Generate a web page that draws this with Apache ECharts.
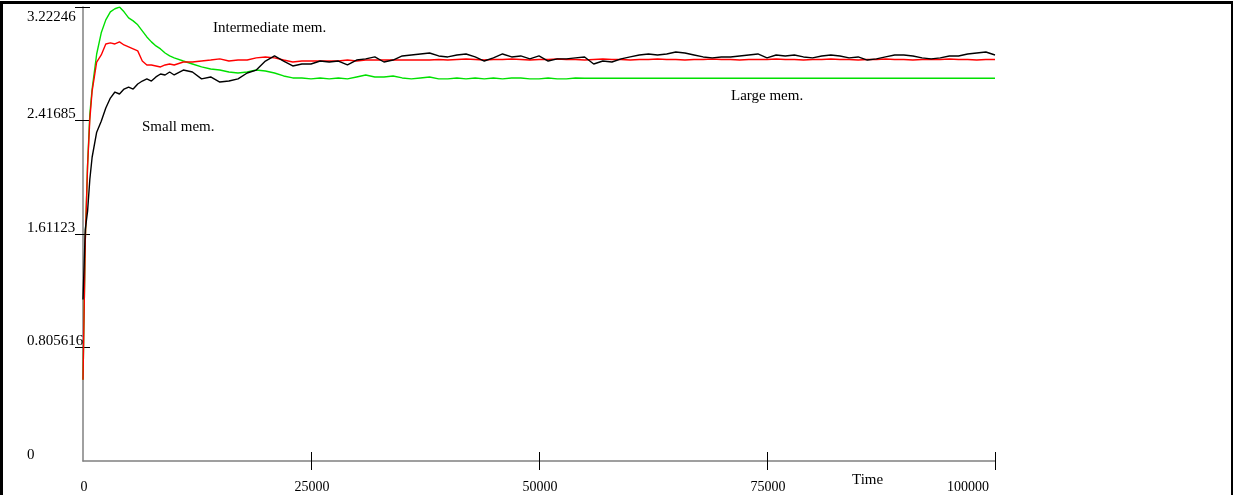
<!DOCTYPE html>
<html>
<head>
<meta charset="utf-8">
<script src="https://cdn.jsdelivr.net/npm/echarts@6.0.0/dist/echarts.min.js"></script>
<style>
  html, body { margin: 0; padding: 0; background: #fff; }
  #wrap { position: relative; width: 1234px; height: 495px; overflow: hidden; }
  #chart { position: absolute; left: 0; top: 0; width: 1234px; height: 495px; }
  #frame { position: absolute; left: 0; top: 1px; width: 1233px; height: 520px; box-sizing: border-box;
           border-top: 3px solid #000; border-left: 3px solid #000; border-right: 2px solid #000; pointer-events: none; }
</style>
</head>
<body>
<div id="wrap"><div id="chart"></div><div id="frame"></div></div>
<script>
// ---- data ----
const times = [0,250,500,750,1000,1500,2000,2500,3000,3500,4000,4500,5000,5500,6000,6500,7000,7500,8000,8500,9000,9500,10000,
  11000,12000,13000,14000,15000,16000,17000,18000,19000,20000,
  21000,22000,23000,24000,25000,26000,27000,28000,29000,30000,
  31000,32000,33000,34000,35000,36000,37000,38000,39000,40000,
  41000,42000,43000,44000,45000,46000,47000,48000,49000,50000,
  51000,52000,53000,54000,55000,56000,57000,58000,59000,60000,
  61000,62000,63000,64000,65000,66000,67000,68000,69000,70000,
  71000,72000,73000,74000,75000,76000,77000,78000,79000,80000,
  81000,82000,83000,84000,85000,86000,87000,88000,89000,90000,
  91000,92000,93000,94000,95000,96000,97000,98000,99000,100000];

const largeMem = [0.576,1.57,2.10,2.462,2.640,2.889,3.039,3.131,3.188,3.210,3.222,3.188,3.145,3.124,3.096,3.053,3.010,2.975,2.946,2.925,2.896,2.875,2.861,
  2.839,2.818,2.797,2.782,2.775,2.761,2.754,2.761,2.775,2.768,2.754,2.733,2.719,2.719,
  2.712,2.719,2.712,2.719,2.712,2.726,2.740,2.726,2.726,2.733,
  2.719,2.712,2.719,2.726,2.712,2.712,2.719,2.712,2.719,2.712,
  2.719,2.712,2.719,2.719,2.712,2.712,2.719,2.712,2.712,2.719,
  2.717,2.717,2.717,2.717,2.717,2.717,2.717,2.717,2.717,2.717,
  2.717,2.717,2.717,2.717,2.717,2.717,2.717,2.717,2.717,2.717,
  2.717,2.717,2.717,2.717,2.717,2.717,2.717,2.717,2.717,2.717,
  2.717,2.717,2.717,2.717,2.717,2.717,2.717,2.717,2.717,2.717,
  2.717,2.717,2.717,2.717,2.717,2.717];

const intermediateMem = [0.576,1.56,2.09,2.427,2.626,2.832,2.882,2.960,2.968,2.960,2.975,2.953,2.939,2.925,2.911,2.839,2.811,2.811,2.804,2.797,2.811,2.818,2.811,
  2.832,2.832,2.839,2.846,2.854,2.839,2.846,2.846,2.861,2.868,2.861,2.846,2.832,2.839,
  2.839,2.839,2.839,2.839,2.846,2.839,2.846,2.846,2.846,2.846,2.846,2.846,2.846,2.846,
  2.850,2.846,2.850,2.853,2.850,2.846,2.850,2.850,2.853,2.850,
  2.846,2.850,2.850,2.853,2.850,2.850,2.846,2.850,2.853,2.850,
  2.850,2.846,2.850,2.850,2.853,2.850,2.850,2.846,2.850,2.850,
  2.853,2.850,2.850,2.846,2.850,2.850,2.850,2.853,2.850,2.850,
  2.846,2.850,2.850,2.853,2.850,2.850,2.846,2.850,2.850,2.853,
  2.850,2.850,2.846,2.850,2.850,2.850,2.853,2.850,2.850,2.846,
  2.850,2.850];

const smallMem = [1.146,1.644,1.772,2.000,2.156,2.334,2.412,2.505,2.576,2.619,2.605,2.640,2.654,2.640,2.676,2.697,2.712,2.697,2.726,2.747,2.740,2.761,2.740,
  2.775,2.761,2.712,2.726,2.690,2.697,2.712,2.754,2.775,2.839,2.875,2.839,2.804,2.818,
  2.818,2.839,2.832,2.839,2.811,2.846,2.854,2.868,2.832,2.846,
  2.875,2.882,2.889,2.896,2.875,2.868,2.882,2.889,2.868,2.839,
  2.861,2.889,2.868,2.875,2.854,2.875,2.839,2.854,2.854,2.861,
  2.868,2.818,2.839,2.832,2.854,2.868,2.882,2.889,2.882,2.889,
  2.903,2.896,2.882,2.868,2.861,2.868,2.868,2.875,2.882,2.889,
  2.861,2.882,2.875,2.882,2.868,2.861,2.875,2.882,2.875,2.861,
  2.868,2.846,2.854,2.868,2.882,2.882,2.875,2.861,2.854,2.861,
  2.875,2.875,2.889,2.896,2.903,2.882];

const yTickStep = 0.805616;
const yLabels = ['0','0.805616','1.61123','2.41685','3.22246'];
const xTicks = [25000, 50000, 75000, 100000];
const seriesNames = ['Large mem.', 'Intermediate mem.', 'Small mem.'];

// ---- chart ----
const FONT = '"Liberation Serif", "Times New Roman", serif';
function pairs(vals) { return vals.map((v, i) => [times[i], v]); }
const yMax = yTickStep * 4;
const yTickVals = [1, 2, 3, 4].map(k => yTickStep * k);

const chart = echarts.init(document.getElementById('chart'), null, { renderer: 'canvas' });
const common = { type: 'value', splitLine: { show: false } };
chart.setOption({
  animation: false,
  backgroundColor: '#fff',
  grid: { left: 83, right: 239, top: 7, bottom: 34, containLabel: false },
  xAxis: [
    Object.assign({}, common, {
      min: 0, max: 100000, interval: 25000, position: 'bottom',
      axisLine: { show: true, lineStyle: { color: '#808080', width: 1.5 } },
      axisTick: { show: true, inside: false, length: 9, customValues: xTicks, lineStyle: { color: '#000', width: 1 } },
      axisLabel: { fontFamily: FONT, fontSize: 14, color: '#000', margin: 19, alignMaxLabel: 'right',
                   formatter: v => (Math.round(v) === 100000 ? '{r|' : '{n|') + String(Math.round(v)) + '}',
                   rich: {
                     n: { fontFamily: FONT, fontSize: 14, color: '#000', padding: [0, 0, 0, 2] },
                     r: { fontFamily: FONT, fontSize: 14, color: '#000', padding: [0, 6, 0, 0] }
                   } }
    }),
    Object.assign({}, common, {
      min: 0, max: 100000, interval: 25000, position: 'bottom',
      axisLine: { show: false },
      axisTick: { show: true, inside: true, length: 9, customValues: xTicks, lineStyle: { color: '#000', width: 1 } },
      axisLabel: { show: false }
    })
  ],
  yAxis: [
    Object.assign({}, common, {
      min: 0, max: yMax, interval: yTickStep, position: 'left',
      axisLine: { show: true, onZero: false, lineStyle: { color: '#808080', width: 1.5 } },
      axisTick: { show: true, inside: false, length: 8, customValues: yTickVals, lineStyle: { color: '#000', width: 1 } },
      axisLabel: {
        align: 'left', margin: 56, color: '#000', fontFamily: FONT, fontSize: 15,
        formatter: v => {
          const i = Math.round(v / yTickStep);
          return (i === 4 ? '{t|' : '{a|') + yLabels[i] + '}';
        },
        rich: {
          a: { fontFamily: FONT, fontSize: 15, color: '#000', padding: [0, 0, 12, 0] },
          t: { fontFamily: FONT, fontSize: 15, color: '#000', padding: [20, 0, 0, 0] }
        }
      }
    }),
    Object.assign({}, common, {
      min: 0, max: yMax, interval: yTickStep, position: 'left', offset: 0,
      axisLine: { show: false },
      axisTick: { show: true, inside: true, length: 7, customValues: yTickVals, lineStyle: { color: '#000', width: 1 } },
      axisLabel: { show: false }
    })
  ],
  series: [
    { name: seriesNames[0], type: 'line', data: pairs(largeMem), showSymbol: false, symbol: 'none',
      lineStyle: { color: '#00e000', width: 1.4 }, itemStyle: { color: '#00e000' }, z: 2 },
    { name: seriesNames[1], type: 'line', data: pairs(intermediateMem), showSymbol: false, symbol: 'none',
      lineStyle: { color: '#ff0000', width: 1.4 }, itemStyle: { color: '#ff0000' }, z: 3 },
    { name: seriesNames[2], type: 'line', data: pairs(smallMem), showSymbol: false, symbol: 'none',
      lineStyle: { color: '#000000', width: 1.4 }, itemStyle: { color: '#000' }, z: 4 }
  ],
  graphic: [
    { type: 'text', left: 213, top: 21, style: { text: seriesNames[1], font: '15px ' + FONT, fill: '#000' } },
    { type: 'text', left: 142, top: 120, style: { text: seriesNames[2], font: '15px ' + FONT, fill: '#000' } },
    { type: 'text', left: 731, top: 89, style: { text: seriesNames[0], font: '15px ' + FONT, fill: '#000' } },
    { type: 'text', left: 852, top: 473, style: { text: 'Time', font: '15px ' + FONT, fill: '#000' } }
  ]
});
</script>
</body>
</html>
